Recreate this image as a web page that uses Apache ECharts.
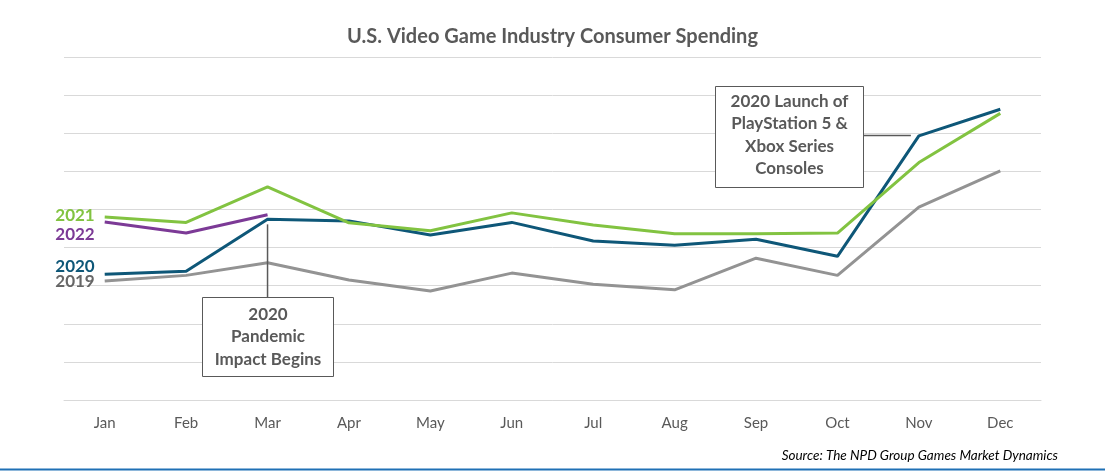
<!DOCTYPE html>
<html><head><meta charset="utf-8">
<script src="https://cdn.jsdelivr.net/npm/echarts@6/dist/echarts.min.js"></script>
<style>html,body{margin:0;padding:0;background:#fff}#c{width:1105px;height:471px}</style>
</head><body><div id="c"></div>
<script>
const months = ['Jan','Feb','Mar','Apr','May','Jun','Jul','Aug','Sep','Oct','Nov','Dec'];
const y2019 = [3.12,3.27,3.60,3.15,2.86,3.33,3.04,2.89,3.72,3.27,5.06,6.01];
const y2020 = [3.30,3.38,4.74,4.70,4.33,4.66,4.17,4.06,4.22,3.77,6.93,7.63];
const y2021 = [4.80,4.66,5.59,4.65,4.44,4.91,4.59,4.36,4.36,4.38,6.23,7.52];
const y2022 = [4.67,4.38,4.86];
const yTicks = [0,1,2,3,4,5,6,7,8,9];

const FONT = 'Lato, "Open Sans", sans-serif';
const chart = echarts.init(document.getElementById('c'));

function mk(name, data, color, labelColor, off) {
  return {
    name, type: 'line', symbol: 'circle', symbolSize: 0, showSymbol: true,
    data: data.map((v,i)=> i===0 ? {value:v, label:{show:true, position:'left', distance:0, offset:off, formatter:name, color:labelColor, fontSize:17, fontWeight:'bold', fontFamily:FONT}} : v),
    lineStyle: {color, width: 3}, itemStyle:{color}, z: 3,
    emphasis:{disabled:true}
  };
}

chart.setOption({
  animation: false,
  title: {text: 'U.S. Video Game Industry Consumer Spending', left: 'center', top: 22,
    textStyle: {fontFamily: FONT, fontSize: 20, fontWeight: 'bold', color: '#595959'}},
  grid: {left: 64, right: 64, top: 57, bottom: 71},
  xAxis: {type: 'category', data: months, boundaryGap: true,
    axisLine: {lineStyle: {color: '#d9d9d9'}}, axisTick: {show: false},
    axisLabel: {color: '#595959', fontSize: 15, fontFamily: FONT, margin: 16}},
  yAxis: {type: 'value', min: yTicks[0], max: yTicks[yTicks.length-1], interval: 1,
    axisLabel: {show: false}, axisLine: {show: false}, axisTick: {show: false},
    splitLine: {lineStyle: {color: '#d9d9d9', width: 1}}},
  series: [
    mk('2019', y2019, '#939393', '#666666', [-10, 0]),
    mk('2020', y2020, '#0e5778', '#0e5778', [-10, -8]),
    mk('2021', y2021, '#82c341', '#82c341', [-10, -2]),
    mk('2022', y2022, '#7c3a96', '#7c3a96', [-10, 12])
  ]
});

const pMar = chart.convertToPixel({xAxisIndex:0, yAxisIndex:0}, [2, y2020[2]]);
const pNov = chart.convertToPixel({xAxisIndex:0, yAxisIndex:0}, [10, y2020[10]]);
const txt = {fontFamily: FONT, fontSize: 17, fontWeight: 'bold', fill: '#595959', align: 'center', lineHeight: 22.5};
chart.setOption({
  graphic: [
    {type:'line', shape:{x1:pMar[0], y1:pMar[1]+5, x2:pMar[0], y2:297}, style:{stroke:'#595959', lineWidth:1.5}, z:10},
    {type:'rect', shape:{x:202.5, y:297.5, width:131, height:79}, style:{fill:'#fff', stroke:'#595959', lineWidth:1}, z:10},
    {type:'text', x:268, y:303, style:Object.assign({text:'2020\nPandemic\nImpact Begins'}, txt), z:11},
    {type:'line', shape:{x1:863, y1:135.5, x2:pNov[0]-8, y2:135.5}, style:{stroke:'#595959', lineWidth:1.5}, z:10},
    {type:'rect', shape:{x:715.5, y:86.5, width:148, height:101}, style:{fill:'#fff', stroke:'#595959', lineWidth:1}, z:10},
    {type:'text', x:789.5, y:90, style:Object.assign({text:'2020 Launch of\nPlayStation 5 &\nXbox Series\nConsoles'}, txt), z:11},
    {type:'text', x:1058, y:449, style:{text:'Source: The NPD Group Games Market Dynamics', fontFamily:FONT, fontSize:13.5, fontStyle:'italic', fill:'#000', align:'right'}},
    {type:'rect', shape:{x:0, y:468.5, width:1105, height:2}, style:{fill:'#1f70b5'}}
  ]
});
</script></body></html>
